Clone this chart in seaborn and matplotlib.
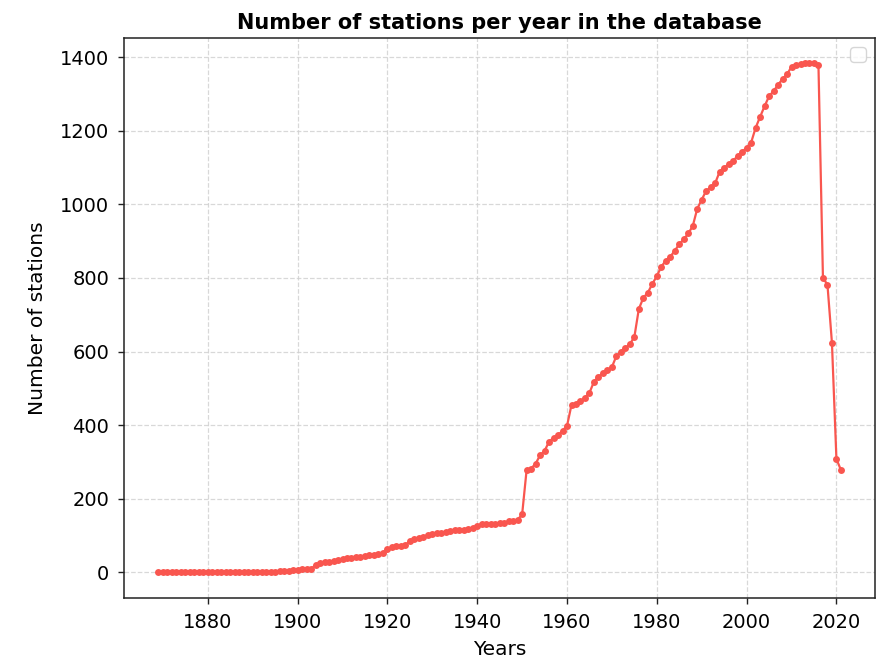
import matplotlib
matplotlib.use('Agg')
import matplotlib.pyplot as plt
import seaborn as sns
import pandas as pd

# stations counted per year, 1869 to 2021
years = list(range(1869, 2022))
stations = [
    0,
    0, 0, 0, 0, 0, 0, 0, 0, 0, 0,
    0, 1, 1, 1, 1, 1, 1, 1, 1, 1,
    1, 1, 1, 1, 2, 2, 3, 3, 4, 5,
    7, 8, 8, 9, 20, 24, 27, 29, 31, 33,
    36, 38, 40, 41, 42, 44, 46, 48, 50, 52,
    62, 68, 70, 72, 74, 85, 90, 93, 96, 100,
    104, 107, 108, 110, 112, 114, 115, 116, 117, 120,
    127, 131, 132, 132, 132, 134, 135, 138, 140, 143,
    157, 278, 282, 295, 318, 330, 355, 365, 372, 385,
    398, 455, 458, 465, 475, 488, 518, 532, 541, 550,
    558, 588, 600, 610, 620, 640, 716, 746, 760, 784,
    805, 831, 847, 858, 874, 892, 905, 921, 941, 988,
    1013, 1037, 1046, 1058, 1089, 1100, 1109, 1118, 1132, 1143,
    1154, 1168, 1208, 1238, 1267, 1294, 1308, 1325, 1341, 1354,
    1374, 1380, 1382, 1384, 1384, 1384, 1378, 800, 782, 624,
    308, 278,
]

df = pd.DataFrame({'Year': years, 'Stations': stations})

sns.set_style('ticks')
plt.rcParams['font.family'] = ['DejaVu Sans']
plt.rcParams['text.color'] = 'black'
plt.rcParams['axes.labelcolor'] = 'black'

fig = plt.figure(figsize=(8.76, 6.6), dpi=100)
ax = fig.add_axes([0.1419, 0.0944, 0.857, 0.8485])

color = '#F9564F'
sns.lineplot(data=df, x='Year', y='Stations', ax=ax, color=color,
             marker='o', markersize=5, linewidth=1.6,
             markeredgecolor=color, markeredgewidth=0)

ax.grid(True, linestyle='--', linewidth=0.9, color='#cfcfcf', alpha=0.8)
for side in ['top', 'right', 'bottom', 'left']:
    ax.spines[side].set_visible(True)
    ax.spines[side].set_color('#222222')
    ax.spines[side].set_linewidth(1.1)
ax.tick_params(axis='both', labelsize=14, length=4, width=1.0, pad=7,
               color='#222222', labelcolor='black')

ax.set_title('Number of stations per year in the database',
             fontsize=15, fontweight='bold', pad=6)
ax.set_xlabel('Years', fontsize=14.5, labelpad=5.5)
ax.set_ylabel('Number of stations', fontsize=14.5, labelpad=9)
ax.legend(loc='upper right', fontsize=13.6)

fig.savefig('out.png', dpi=100)
